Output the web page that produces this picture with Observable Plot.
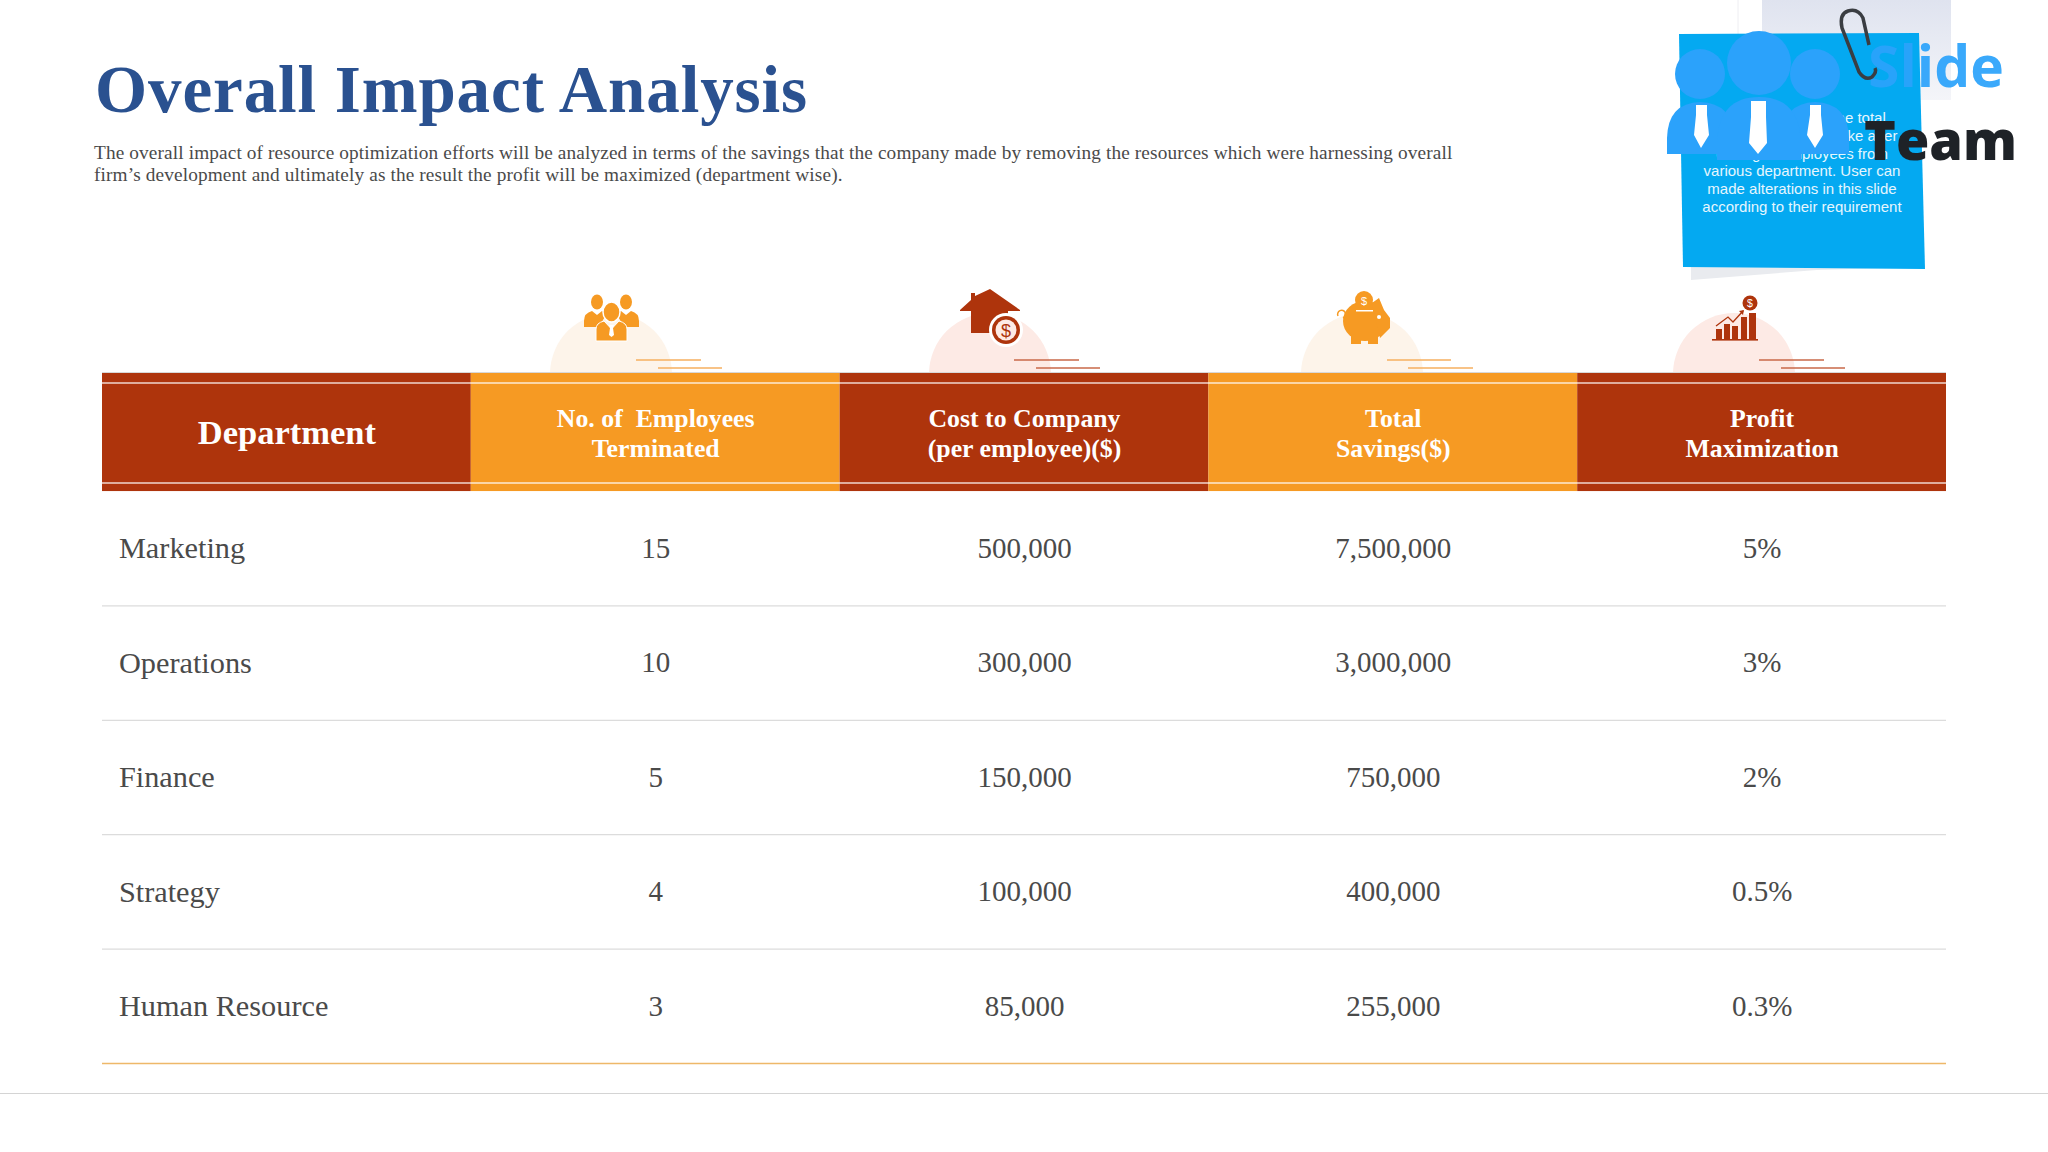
<!DOCTYPE html>
<html>
<head>
<meta charset="utf-8">
<script src="https://cdn.jsdelivr.net/npm/d3@7"></script>
<script src="https://cdn.jsdelivr.net/npm/@observablehq/plot@0.6"></script>
<style>
html,body{margin:0;padding:0;background:#fff;width:2048px;height:1152px;overflow:hidden}
#top{position:relative;width:2048px;height:373px;overflow:hidden}
#top svg{position:absolute;left:0;top:0}
h1{position:absolute;left:95px;top:49px;margin:0;font:700 67px "Liberation Serif",serif;color:#2a5190;letter-spacing:.9px;white-space:nowrap;line-height:80px}
#sub{position:absolute;left:94px;top:142px;font:19.3px/22px "Liberation Serif",serif;color:#4a4a4a;white-space:nowrap;letter-spacing:.125px}
#chart{position:absolute;left:0;top:373px}
#foot{position:absolute;left:0;top:1093px;width:2048px;height:1px;background:#d4d4d4}
</style>
</head>
<body>
<div id="top">
<svg width="2048" height="373" viewBox="0 0 2048 373">
  <!-- decorative domes and accent lines -->
  <circle cx="611" cy="374" r="61" fill="#fdf4ea"/>
  <circle cx="990" cy="374" r="61" fill="#fdeae5"/>
  <circle cx="1362" cy="374" r="61" fill="#fdf4ea"/>
  <circle cx="1734" cy="374" r="61" fill="#fdeae5"/>
  <g stroke-width="1.6" fill="none">
    <path d="M636 360H701M658 368H722M1387 360H1451M1408 368H1473" stroke="#f6b060"/>
    <path d="M1014 360H1079M1036 368H1100M1759 360H1824M1781 368H1845" stroke="#c9694a"/>
  </g>
  <line x1="102" x2="1946" y1="372.5" y2="372.5" stroke="#d8d8d8"/>
  <!-- people icon -->
  <g fill="#f69a23">
    <ellipse cx="597" cy="302" rx="6" ry="7.5"/><ellipse cx="626" cy="302" rx="6" ry="7.5"/>
    <path d="M584 327v-6q0-8 8-10l5 4 5-4 5 2-8 14zM639 327v-6q0-8-8-10l-5 4-5-4-5 2 8 14z"/>
    <ellipse cx="611.5" cy="312" rx="8.5" ry="10" stroke="#fff" stroke-width="1.5"/>
    <path d="M596 341v-12q0-6 8-8l7.500 8 7.500-8q8 2 8 8v12z" stroke="#fff" stroke-width="1"/>
    <path d="M609 325h5l-1 3 1 7-2.500 2-2.500-2 1-7z" fill="#fff"/>
  </g>
  <!-- house icon -->
  <g fill="#ae340c">
    <path d="M960 310L971 300V293H975V296L990 289L1020 310V311H1008V333H971V311H960Z"/>
    <circle cx="1006" cy="330" r="17" fill="#fff"/>
    <circle cx="1006" cy="330" r="14"/><circle cx="1006" cy="330" r="10.500" fill="#fdeae5"/>
    <text x="1006" y="337" text-anchor="middle" font-family="Liberation Sans" font-size="18" fill="#ae340c">$</text>
  </g>
  <!-- piggy icon -->
  <g fill="#f69a23">
    <ellipse cx="1365" cy="321" rx="22" ry="20"/>
    <path d="M1372 303L1379 298L1384 310L1390 318V328L1380 338Z"/>
    <rect x="1351" y="334" width="10" height="10"/><rect x="1368" y="334" width="10" height="10"/>
    <circle cx="1364" cy="300" r="9"/>
    <path d="M1343 318a4 4 0 1 0-5-2" fill="none" stroke="#f69a23" stroke-width="1.500"/>
    <rect x="1356" y="310" width="17" height="1.500" fill="#fff"/>
    <circle cx="1379" cy="317" r="2" fill="#fff"/>
    <text x="1364" y="304.500" text-anchor="middle" font-family="Liberation Sans" font-size="11" fill="#fff">$</text>
  </g>
  <!-- growth icon -->
  <g fill="#ae340c">
    <rect x="1712" y="339" width="46" height="1.600"/>
    <rect x="1716" y="329" width="6" height="10"/><rect x="1724" y="324" width="6" height="15"/>
    <rect x="1732" y="326" width="6" height="13"/><rect x="1741" y="317" width="6" height="22"/>
    <rect x="1749" y="313" width="7" height="26"/>
    <path d="M1716 326L1728 317L1733 322L1743 311" fill="none" stroke="#ae340c" stroke-width="1.300"/>
    <path d="M1739 311L1744 310L1743 315Z"/>
    <circle cx="1750" cy="303" r="7.500"/>
    <text x="1750" y="307" text-anchor="middle" font-family="Liberation Sans" font-size="10.500" fill="#fff">$</text>
  </g>
  <!-- sticky note and watermark -->
  <path d="M1738 0V100M1950 0V95" stroke="#eeeef2" fill="none"/>
  <defs><linearGradient id="paper" x1="0" y1="0" x2="0" y2="1"><stop offset="0" stop-color="#dfe3ef"/><stop offset="1" stop-color="#f4f5f9"/></linearGradient></defs>
  <rect x="1762" y="0" width="189" height="100" fill="url(#paper)"/>
  <path d="M1691 267H1925L1817 270L1691 280Z" fill="#e9ebef"/>
  <path d="M1679 34L1919 33L1925 269L1683 267Z" fill="#04a9f1"/>
  <g font-family="Liberation Sans" font-size="15" fill="#e6f6fe" text-anchor="middle">
    <text x="1802" y="123">This slide shows the total</text>
    <text x="1802" y="141">savings company make after</text>
    <text x="1802" y="159">cutting of employees from</text>
    <text x="1802" y="176">various department. User can</text>
    <text x="1802" y="194">made alterations in this slide</text>
    <text x="1802" y="212">according to their requirement</text>
  </g>
  <g fill="#2ba2fb">
    <circle cx="1700" cy="74" r="25"/><circle cx="1815" cy="74" r="25"/><circle cx="1759" cy="63" r="32"/>
    <path d="M1667 154V138Q1668 103 1700 102Q1733 103 1734 138V154Z"/>
    <path d="M1782 154V138Q1783 103 1815 102Q1848 103 1849 138V154Z"/>
    <path d="M1717 160V142Q1719 97 1759 97Q1799 97 1801 142V160Z"/>
  </g>
  <g fill="#fff">
    <path d="M1696 105H1707V115L1709 135L1701 148L1694 135L1696 115Z"/>
    <path d="M1751 101H1766V117L1767 143L1758 154L1749 143L1751 117Z"/>
    <path d="M1810 105H1821V115L1823 135L1815 148L1807 135L1810 115Z"/>
  </g>
  <text x="1868" y="87" font-family="Open Sans" font-weight="700" font-size="57" fill="#2ba2fb" fill-opacity=".93">Slide</text>
  <text x="1864" y="160" font-family="Open Sans" font-weight="800" font-size="54" fill="#1e2227">Team</text>
  <path d="M1869 45L1863 18Q1858 8 1848 11Q1839 14 1842 28L1859 72Q1865 81 1872 77Q1877 72 1875 68" fill="none" stroke="#3a3d42" stroke-width="3.5"/>
</svg>
<h1>Overall Impact Analysis</h1>
<div id="sub">The overall impact of resource optimization efforts will be analyzed in terms of the savings that the company made by removing the resources which were harnessing overall<br>firm’s development and ultimately as the result the profit will be maximized (department wise).</div>
</div>
<div id="chart"></div>
<div id="foot"></div>
<script>
const columns = ["Department", "No. of  Employees\nTerminated", "Cost to Company\n(per employee)($)", "Total\nSavings($)", "Profit\nMaximization"];
const departments = ["Marketing", "Operations", "Finance", "Strategy", "Human Resource"];
const employees = ["15", "10", "5", "4", "3"];
const cost = ["500,000", "300,000", "150,000", "100,000", "85,000"];
const savings = ["7,500,000", "3,000,000", "750,000", "400,000", "255,000"];
const profit = ["5%", "3%", "2%", "0.5%", "0.3%"];

const RED = "#ae340c", ORANGE = "#f69a23";
const headerTop = -1.032;
const headerCells = columns.map((c, i) => ({c, fill: i % 2 ? ORANGE : RED}));
const body = departments.flatMap((d, i) =>
  [employees, cost, savings, profit].map((arr, j) => ({c: columns[j + 1], row: i + 0.5, v: arr[i]})));
const deptRows = departments.map((d, i) => ({c: columns[0], row: i + 0.5, v: d}));
const separators = departments.map((d, i) => i + 1);

const chart = Plot.plot({
  width: 2048, height: 779,
  marginLeft: 102, marginRight: 102, marginTop: 0, marginBottom: 89,
  style: {background: "transparent", fontFamily: "Liberation Serif, serif"},
  x: {domain: columns, axis: null, padding: 0, round: false},
  y: {domain: [headerTop, 5], range: [0, 690], axis: null},
  marks: [
    Plot.barY(headerCells, {x: "c", y1: headerTop, y2: 0, fill: "fill", inset: 0}),
    Plot.ruleY([-0.95, -0.075], {stroke: "#fff", strokeOpacity: 0.8, strokeWidth: 1.5}),
    Plot.ruleY(separators.slice(0, -1), {stroke: "#dcdcdc", strokeWidth: 1.3}),
    Plot.ruleY(separators.slice(-1), {stroke: "#eeb869", strokeWidth: 1.6}),
    Plot.text(columns.slice(0, 1), {x: d => d, y: -0.515, fill: "#fff", fontSize: 34.5, fontWeight: 700}),
    Plot.text(columns.slice(1), {x: d => d, y: -0.515, fill: "#fff", fontSize: 25.8, fontWeight: 700, lineHeight: 1.17}),
    Plot.text(deptRows, {x: "c", y: "row", text: "v", dx: -168, textAnchor: "start", fill: "#4a4a4a", fontSize: 30.3}),
    Plot.text(body, {x: "c", y: "row", text: "v", fill: "#4a4a4a", fontSize: 29})
  ]
});
document.getElementById("chart").append(chart);
</script>
</body>
</html>
